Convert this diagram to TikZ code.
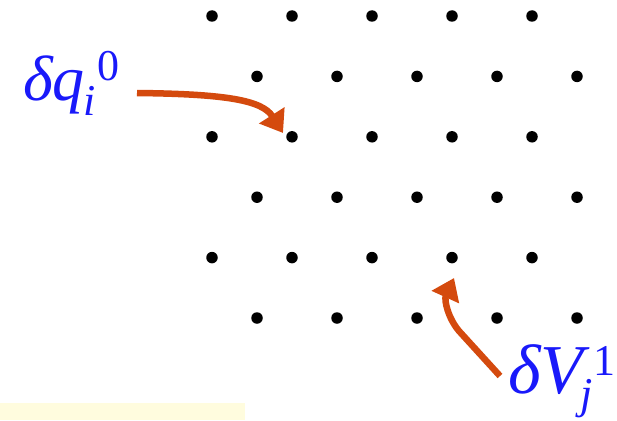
\documentclass[tikz,border=0pt]{standalone}
\usepackage{fontspec}
\setmainfont{Liberation Serif}
\usetikzlibrary{arrows.meta}
\definecolor{labelblue}{RGB}{25,25,250}
\definecolor{arroworange}{RGB}{212,74,14}
\definecolor{notepale}{RGB}{255,252,222}
\tikzset{
  site/.style={circle,fill=black,inner sep=0pt,minimum size=11.5pt},
  varlabel/.style={text=labelblue,inner sep=0pt,anchor=base west},
  pointer/.style={draw=arroworange,line width=6.5pt,
    -{Triangle[length=21pt,width=29pt]}},
}
\newcommand{\bigit}[2]{{\fontsize{#1}{#1}\selectfont\itshape #2}}
\newcommand{\smallit}[1]{{\fontsize{44}{44}\selectfont\itshape #1}}
\newcommand{\smallup}[1]{{\fontsize{44}{44}\selectfont #1}}
\begin{document}
\begin{tikzpicture}[x=1pt,y=-1pt]
  \useasboundingbox (0,0) rectangle (617,420);
  % pale strip at the lower left
  \fill[notepale] (0,403) rectangle (245,420);
  % staggered lattice of sites
  \foreach \r in {0,...,5}{
    \foreach \c in {0,...,4}{
      \pgfmathsetmacro{\xx}{mod(\r,2)==0 ? 212+80*\c : 257+80*\c}
      \pgfmathsetmacro{\yy}{16+60.4*\r}
      \node[site] (d-\r-\c) at (\xx,\yy) {};
    }
  }
  % labels
  \node[varlabel] (lq) at (23,100)
    {\bigit{64}{δq}\hspace{-1pt}\raisebox{-15pt}{\smallit{i}}\hspace{1pt}\raisebox{20pt}{\smallup{0}}};
  \node[varlabel] (lv) at (508,393)
    {\bigit{70}{δV}\hspace{-3pt}\raisebox{-15pt}{\smallit{j}}\hspace{1pt}\raisebox{18pt}{\smallup{1}}};
  % arrow ends
  \coordinate (q-start) at (137,93);
  \coordinate (q-tip) at (283,133);
  \coordinate (v-start) at (500,376);
  \coordinate (v-bend) at (459,331);
  \coordinate (v-tip) at (454,278);
  \draw[pointer] (q-start) .. controls (225,94) and (262,100) .. (q-tip);
  \draw[pointer] (v-start) -- (v-bend) .. controls (448,318) and (444,300) .. (v-tip);
\end{tikzpicture}
\end{document}
